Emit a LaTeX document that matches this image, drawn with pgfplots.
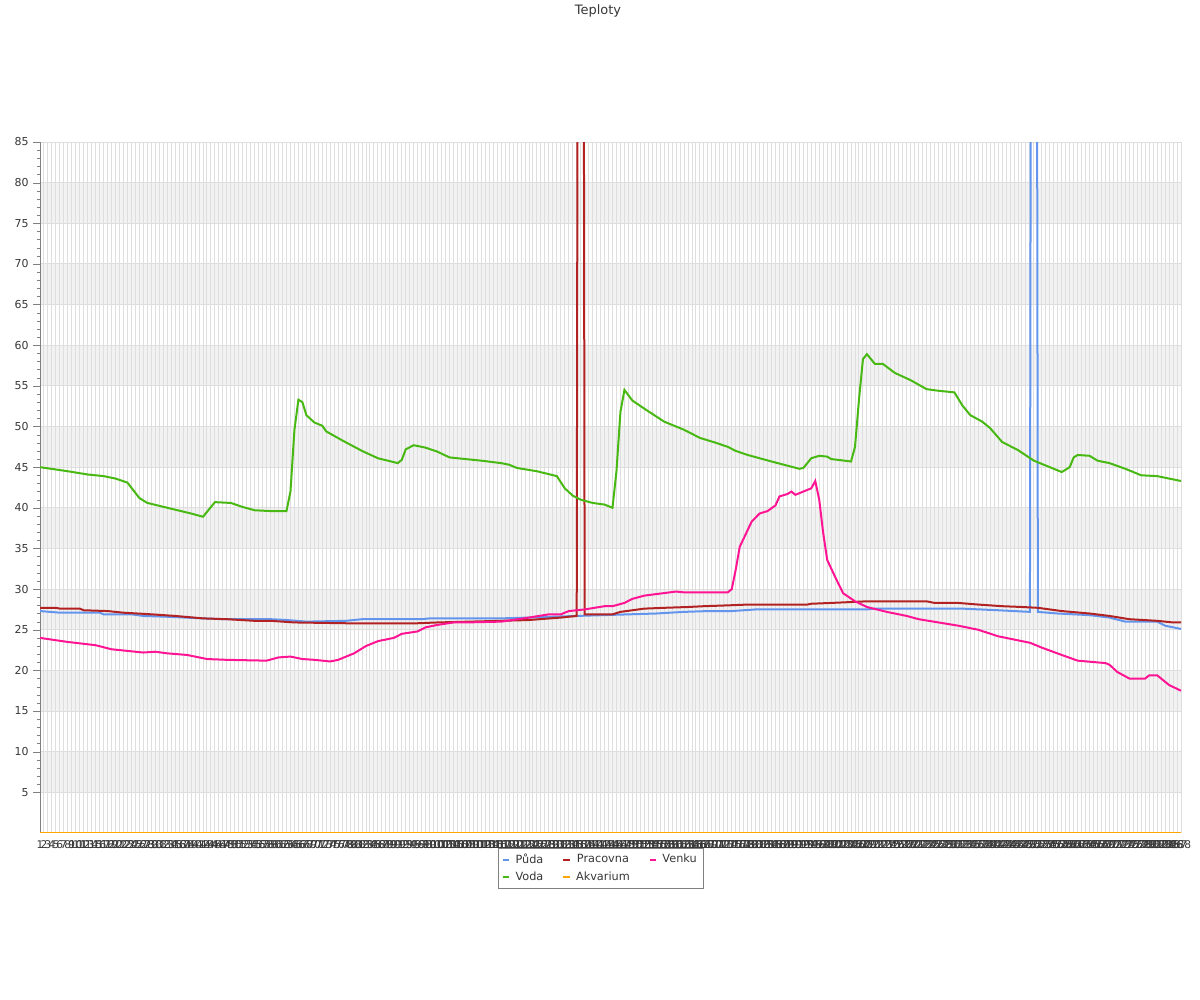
\documentclass[border=0pt]{standalone}
\usepackage{fontspec}
\setmainfont{DejaVu Sans}
\usepackage{pgfplots}
\pgfplotsset{compat=1.18}
\definecolor{puda}{RGB}{100,149,237}
\definecolor{voda}{RGB}{72,184,18}
\definecolor{pracovna}{RGB}{178,34,34}
\definecolor{venku}{RGB}{255,20,147}
\definecolor{akvarium}{RGB}{255,165,0}
\definecolor{band}{RGB}{242,242,242}
\definecolor{gridc}{RGB}{222,222,222}
\definecolor{txt}{RGB}{55,55,55}

\begin{document}
\begin{tikzpicture}
\begin{axis}[
    set layers,
    at={(30bp,125.25bp)}, anchor=south west,
    scale only axis,
    width=855.75bp, height=518.25bp,
    xmin=1, xmax=288, ymin=0, ymax=85,
    axis y line=left, axis x line=bottom,
    axis line style={-, draw=gray},
    x axis line style={draw=none},
    xtick={1,...,288},
    xticklabel={\pgfmathprintnumber{\tick}},
    xticklabel style={font=\fontsize{8}{9}\selectfont, text=txt, yshift=2.5bp},
    xtick style={draw=none},
    ytick={5,10,...,85},
    minor y tick num=4,
    tick align=outside,
    major tick length=5bp, minor tick length=2.5bp,
    ytick style={draw=gray},
    yticklabel style={font=\fontsize{8.25}{10}\selectfont, text=txt},
    /pgf/number format/assume math mode=true,
    xmajorgrids, ymajorgrids,
    grid style={gridc, line width=0.75bp},
    legend columns=3,
    legend style={at={(0.5,0)}, anchor=north, xshift=-7.5bp, yshift=-11bp,
        draw=gray, font=\fontsize{8.5}{10}\selectfont, text=txt,
        /tikz/every odd column/.append style={column sep=2bp},
        /tikz/every even column/.append style={column sep=12bp},
        inner sep=2.5bp, row sep=1bp},
    legend image code/.code={\draw[#1] (0bp,0bp) -- (5bp,0bp);},
    every axis plot/.append style={line width=1.5bp, mark=none},
]
\begin{pgfonlayer}{axis background}
\fill[band] (axis cs:1,5) rectangle (axis cs:288,10);
\fill[band] (axis cs:1,15) rectangle (axis cs:288,20);
\fill[band] (axis cs:1,25) rectangle (axis cs:288,30);
\fill[band] (axis cs:1,35) rectangle (axis cs:288,40);
\fill[band] (axis cs:1,45) rectangle (axis cs:288,50);
\fill[band] (axis cs:1,55) rectangle (axis cs:288,60);
\fill[band] (axis cs:1,65) rectangle (axis cs:288,70);
\fill[band] (axis cs:1,75) rectangle (axis cs:288,80);
\end{pgfonlayer}

% Puda
\addplot[puda] coordinates {
(1,27.3) (6,27.1) (16,27.1) (17,26.9) (24,26.9) (27,26.7) (33,26.6) (42,26.4)
(47,26.3) (59,26.3) (63,26.2) (68,26.0) (78,26.1) (82,26.3) (97,26.3) (99,26.4)
(117,26.4) (124,26.5) (136,26.7) (156,27.0) (163,27.2) (169,27.3) (175,27.3)
(181,27.5) (209,27.5) (211,27.6) (233,27.6) (242,27.4) (250,27.2) (251,350)
(252,27.2) (257,27.0) (265,26.8) (270,26.5) (274,26.0) (282,26.0) (284,25.5) (288,25.1)
};
\addlegendentry{Půda}
% Pracovna
\addplot[pracovna] coordinates {
(1,27.7) (5,27.7) (6,27.6) (11,27.6) (12,27.4) (18,27.3) (22,27.1) (29,26.9)
(35,26.7) (42,26.4) (48,26.3) (55,26.1) (59,26.1) (65,25.9) (78,25.8) (96,25.8)
(101,25.9) (117,26.1) (124,26.2) (132,26.5) (136,26.7) (137,350) (138,26.9)
(145,26.9) (147,27.2) (153,27.6) (158,27.7) (164,27.8) (168,27.9) (174,28.0)
(179,28.1) (194,28.1) (195,28.2) (200,28.3) (209,28.5) (224,28.5) (226,28.3)
(232,28.3) (237,28.1) (243,27.9) (248,27.8) (252,27.7) (258,27.3) (265,27.0)
(270,26.7) (275,26.3) (282,26.1) (286,25.9) (288,25.9)
};
\addlegendentry{Pracovna}
% Venku
\addplot[venku] coordinates {
(1,24.0) (8,23.5) (15,23.1) (19,22.6) (23,22.4) (27,22.2) (30,22.3) (33,22.1)
(38,21.9) (43,21.4) (48,21.3) (58,21.2) (61,21.6) (64,21.7) (67,21.4) (70,21.3)
(74,21.1) (76,21.3) (80,22.1) (83,23.0) (86,23.6) (90,24.0) (92,24.5) (96,24.8)
(98,25.3) (101,25.6) (105,25.9) (108,25.9) (117,26.0) (124,26.5) (129,26.9)
(132,26.9) (134,27.3) (138,27.5) (143,27.9) (145,27.9) (148,28.3) (150,28.8)
(153,29.2) (161,29.7) (163,29.6) (174,29.6) (175,30.0) (176,32.4) (177,35.2)
(180,38.3) (182,39.3) (184,39.6) (186,40.3) (187,41.4) (189,41.7) (190,42.0)
(191,41.6) (193,42.0) (195,42.4) (196,43.3) (197,41.0) (198,36.9) (199,33.6)
(201,31.5) (203,29.5) (206,28.5) (209,27.8) (214,27.2) (219,26.7) (222,26.3)
(227,25.9) (232,25.5) (237,25.0) (242,24.2) (250,23.4) (253,22.8) (258,21.9)
(262,21.2) (269,20.9) (270,20.7) (272,19.8) (275,19.0) (279,19.0) (280,19.4)
(282,19.4) (285,18.2) (288,17.5)
};
\addlegendentry{Venku}
% Voda
\addplot[voda] coordinates {
(1,45.0) (8,44.5) (13,44.1) (17,43.9) (20,43.6) (23,43.1) (26,41.2) (28,40.6)
(39,39.3) (42,38.9) (45,40.7) (49,40.6) (52,40.1) (55,39.7) (59,39.6) (63,39.6)
(64,42.0) (65,49.6) (66,53.3) (67,53.0) (68,51.4) (70,50.5) (72,50.1) (73,49.4)
(77,48.3) (82,47.0) (86,46.1) (91,45.5) (92,45.9) (93,47.2) (95,47.7) (98,47.4)
(101,46.9) (104,46.2) (108,46.0) (112,45.8) (117,45.5) (119,45.3) (121,44.9)
(126,44.5) (131,43.9) (133,42.4) (135,41.5) (137,41.0) (140,40.6) (143,40.4)
(145,40.0) (146,44.5) (147,51.8) (148,54.5) (150,53.2) (153,52.2) (158,50.6)
(163,49.6) (167,48.6) (171,48.0) (174,47.5) (176,47.0) (179,46.5) (185,45.7)
(192,44.8) (193,44.9) (195,46.1) (197,46.4) (199,46.3) (200,46.0) (205,45.7)
(206,47.5) (207,53.3) (208,58.3) (209,58.9) (211,57.7) (213,57.7) (216,56.6)
(220,55.7) (224,54.6) (227,54.4) (231,54.2) (233,52.6) (235,51.4) (238,50.6)
(240,49.8) (243,48.1) (247,47.1) (251,45.8) (255,45.0) (258,44.4) (260,45.0)
(261,46.2) (262,46.5) (265,46.4) (267,45.8) (270,45.5) (274,44.8) (278,44.0)
(282,43.9) (286,43.5) (288,43.3)
};
\addlegendentry{Voda}
% Akvarium
\addplot[akvarium] coordinates {(1,0) (288,0)};
\addlegendentry{Akvarium}
\end{axis}
\path (0,0) rectangle (900bp,750bp);
\node[text=txt, font=\fontsize{9.75}{11}\selectfont] at (448.5bp,741.75bp) {Teploty};
\end{tikzpicture}
\end{document}
